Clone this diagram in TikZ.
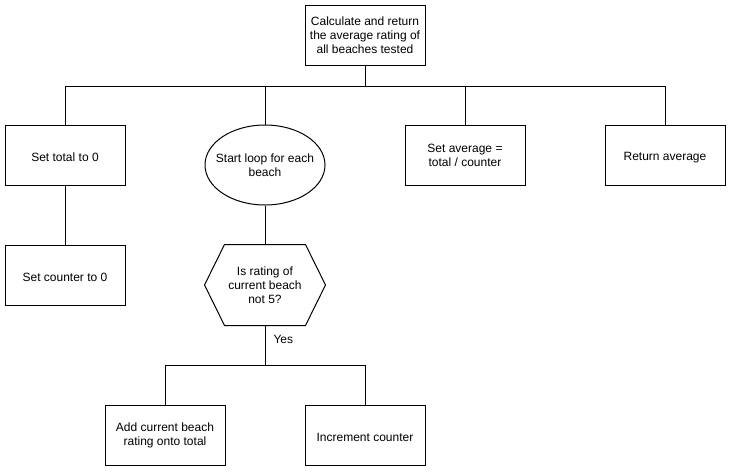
\documentclass[tikz,border=0pt]{standalone}
\usepackage{fontspec}
\setmainfont{Liberation Sans}
\newcommand{\lowtext}[1]{\raisebox{-2.5pt}[\height][\depth]{#1}}
\begin{document}
\begin{tikzpicture}[x=1pt,y=-1pt,line width=1pt,
  every node/.style={font=\fontsize{12}{14}\selectfont, align=center, inner sep=0pt},
  box/.style={draw, minimum width=120pt, minimum height=60pt},
  area/.style={minimum width=120pt, minimum height=80pt},
  link/.style={draw, line width=1pt}]
\useasboundingbox (0,0) rectangle (731,472);
\node[box] (top) at (365,35) {Calculate and return\\the average rating of\\all beaches tested};
\node[box] (total) at (65,155) {\lowtext{Set total to 0}};
\node[area] (loop) at (265,165) {Start loop for each\\beach};
\draw (loop.center) ellipse [x radius=60pt, y radius=40pt];
\node[box] (avg) at (465,155) {Set average =\\total / counter};
\node[box] (ret) at (665,155) {\lowtext{Return average}};
\node[box] (counter) at (65,275) {\lowtext{Set counter to 0}};
\node[area] (dec) at (265,285) {Is rating of\\current beach\\not 5?};
\draw ([xshift=20pt]dec.north west) -- ([xshift=-20pt]dec.north east) -- (dec.east) -- ([xshift=-20pt]dec.south east) -- ([xshift=20pt]dec.south west) -- (dec.west) -- cycle;
\node[box] (add) at (165,435) {Add current beach\\rating onto total};
\node[box] (inc) at (365,435) {\lowtext{Increment counter}};
\coordinate (bus1) at (365,86);
\coordinate (bus2) at (265,365);
\path[link] (top.south) -- (bus1);
\path[link] (bus1) -| (total.north);
\path[link] (bus1) -| (loop.north);
\path[link] (bus1) -| (avg.north);
\path[link] (bus1) -| (ret.north);
\path[link] (total.south) -- (counter.north);
\path[link] (loop.south) -- (dec.north);
\path[link] (dec.south) -- (bus2) node[pos=0.35, right=8pt] (yes) {Yes};
\path[link] (bus2) -| (add.north);
\path[link] (bus2) -| (inc.north);
\end{tikzpicture}
\end{document}
